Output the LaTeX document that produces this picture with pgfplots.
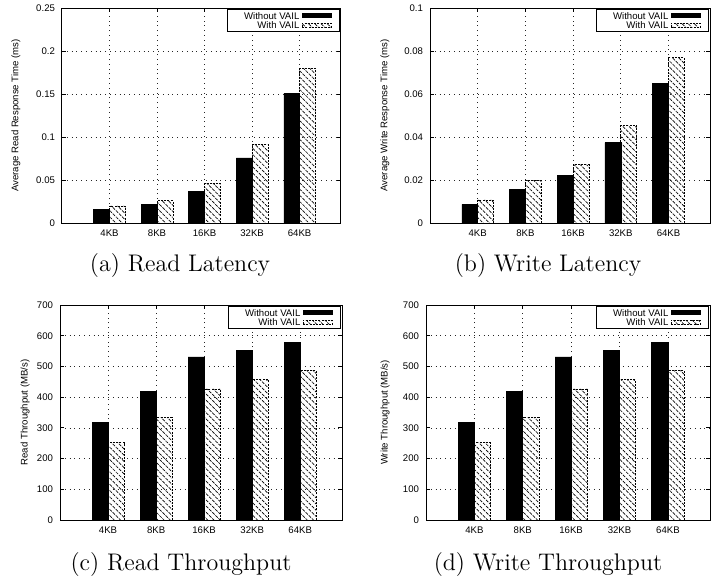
\documentclass[border=0pt]{standalone}
\usepackage{fontspec}
\usepackage{pgfplots}
\pgfplotsset{compat=1.18}
\usetikzlibrary{patterns.meta}
\newfontfamily\hv{Liberation Sans}
\newcommand\gfont{\hv\fontsize{4.8}{5.2}\selectfont}

\pgfplotsset{
  vail/.style={
    scale only axis, anchor=south west, height=107.5pt,
    xmin=-1, xmax=4.87, ymin=0,
    xtick={0,1,2,3,4}, xticklabels={4KB,8KB,16KB,32KB,64KB},
    ybar, bar width=0.3333,
    grid=major, grid style={dotted, black!85, line width=0.35pt},
    tick align=inside, major tick length=2pt,
    tick style={black, line width=0.4pt},
    axis line style={line width=0.5pt},
    ticklabel style={font=\gfont},
    label style={font=\gfont},
    scaled y ticks=false,
    yticklabel={\gfont\pgfmathprintnumber[fixed,precision=3,assume math mode=true]{\tick}},
    legend plot pos=right, legend cell align=right,
    legend style={at={(1,1)}, anchor=north east, xshift=-0.5pt, yshift=-0.5pt,
      draw=black, line width=0.5pt, inner xsep=4pt, inner ysep=0.6pt,
      row sep=0pt, font=\gfont,
      nodes={inner xsep=1.2pt, inner ysep=0.1pt, text height=4.1pt, text depth=0.6pt}},
    legend image code/.code={
      \draw[#1] (0pt,-1pt) rectangle (14.5pt,1pt);},
  },
  novail/.style={fill=black, draw=black, line width=0.3pt},
  withvail/.style={draw=black, line width=0.35pt, dash pattern=on 1pt off 0.6pt,
    pattern={Lines[angle=-45, distance=2.2pt, line width=0.35pt]}},
}

\begin{document}
\begin{tikzpicture}
\useasboundingbox (0,0) rectangle (356pt,290pt);

% (a) read latency
\begin{axis}[vail, at={(31pt,178.5pt)}, width=139.5pt,
  ymax=0.25, ytick={0,0.05,0.1,0.15,0.2,0.25},
  ylabel={Average Read Response Time (ms)},
  ylabel style={at={(axis description cs:-0.165,0.5)}, anchor=center}]
\addplot[novail, bar shift=-0.16667] coordinates {
  (0,0.0155) (1,0.0213) (2,0.0364) (3,0.0756) (4,0.1508)};
\addplot[withvail, bar shift=0.16667] coordinates {
  (0,0.0198) (1,0.0260) (2,0.0460) (3,0.0915) (4,0.1798)};
\legend{\hspace*{3pt}Without VAIL, With VAIL}
\end{axis}

% (b) write latency
\begin{axis}[vail, at={(215pt,178.5pt)}, width=140pt,
  ymax=0.1, ytick={0,0.02,0.04,0.06,0.08,0.1},
  ylabel={Average Write Response Time (ms)},
  ylabel style={at={(axis description cs:-0.161,0.5)}, anchor=center}]
\addplot[novail, bar shift=-0.16667] coordinates {
  (0,0.0087) (1,0.0157) (2,0.0220) (3,0.0374) (4,0.0648)};
\addplot[withvail, bar shift=0.16667] coordinates {
  (0,0.0107) (1,0.0200) (2,0.0271) (3,0.0453) (4,0.0769)};
\legend{\hspace*{3pt}Without VAIL, With VAIL}
\end{axis}

% (c) read throughput
\begin{axis}[vail, at={(30pt,30pt)}, width=141pt,
  ymax=700, ytick={0,100,...,700},
  ylabel={Read Throughput (MB/s)},
  ylabel style={at={(axis description cs:-0.124,0.5)}, anchor=center}]
\addplot[novail, bar shift=-0.16667] coordinates {
  (0,318) (1,418) (2,531) (3,553) (4,579)};
\addplot[withvail, bar shift=0.16667] coordinates {
  (0,252) (1,334) (2,427) (3,457) (4,487)};
\legend{\hspace*{3pt}Without VAIL, With VAIL}
\end{axis}

% (d) write throughput
\begin{axis}[vail, at={(213pt,30pt)}, width=142pt,
  ymax=700, ytick={0,100,...,700},
  ylabel={Write Throughput (MB/s)},
  ylabel style={at={(axis description cs:-0.144,0.5)}, anchor=center}]
\addplot[novail, bar shift=-0.16667] coordinates {
  (0,318) (1,418) (2,531) (3,553) (4,579)};
\addplot[withvail, bar shift=0.16667] coordinates {
  (0,252) (1,334) (2,427) (3,457) (4,487)};
\legend{\hspace*{3pt}Without VAIL, With VAIL}
\end{axis}

\node[anchor=base, font=\fontsize{12}{14}\selectfont] at (90pt,154.5pt) {(a) Read Latency};
\node[anchor=base, font=\fontsize{12}{14}\selectfont] at (274pt,154.5pt) {(b) Write Latency};
\node[anchor=base, font=\fontsize{12}{14}\selectfont] at (90.5pt,5pt) {(c) Read Throughput};
\node[anchor=base, font=\fontsize{12}{14}\selectfont] at (274pt,5pt) {(d) Write Throughput};
\end{tikzpicture}
\end{document}
